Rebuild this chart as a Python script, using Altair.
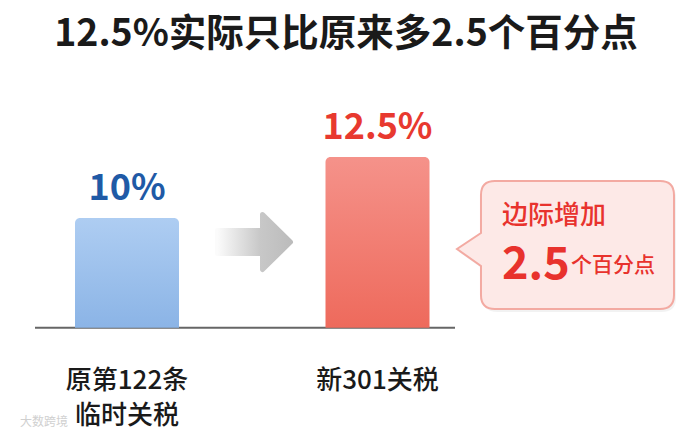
import altair as alt
import pandas as pd

# ---------------- data ----------------
categories = ["原第122条临时关税", "新301关税"]
label_lines = [["原第122条", "临时关税"], ["新301关税"]]
rates = [10, 12.5]
value_labels = ["10%", "12.5%"]
BASE = 5.5  # axis baseline value
title_text = "12.5%实际只比原来多2.5个百分点"
callout_line1 = "边际增加"
callout_big = "2.5"
callout_small = "个百分点"
watermark = "大数跨境"

FONT = "Noto Sans CJK SC"
W, H = 676, 422

df = pd.DataFrame({
    "cat": categories,
    "lines": label_lines,
    "rate": rates,
    "label": value_labels,
    "base": [BASE, BASE],
})

xs = alt.Scale(type="point", domain=categories, range=[119, 369.5], padding=0)
ys = alt.Scale(domain=[1.311, 18.607], zero=False, nice=False)
X = alt.X("cat:N", scale=xs, axis=None)
Y = alt.Y("rate:Q", scale=ys, axis=None)

base = alt.Chart(df)

blue_grad = alt.Gradient(gradient="linear", x1=0, y1=0, x2=0, y2=1,
                         stops=[alt.GradientStop(offset=0, color="#aecdf2"),
                                alt.GradientStop(offset=1, color="#8bb4e6")])
red_grad = alt.Gradient(gradient="linear", x1=0, y1=0, x2=0, y2=1,
                        stops=[alt.GradientStop(offset=0, color="#f5928a"),
                               alt.GradientStop(offset=1, color="#ee6a5c")])

bar_blue = base.transform_filter(alt.datum.cat == categories[0]).mark_bar(
    size=104, fill=blue_grad, cornerRadiusTopLeft=5, cornerRadiusTopRight=5
).encode(x=X, y=Y, y2="base:Q")

bar_red = base.transform_filter(alt.datum.cat == categories[1]).mark_bar(
    size=104, fill=red_grad, cornerRadiusTopLeft=5, cornerRadiusTopRight=5
).encode(x=X, y=Y, y2="base:Q")

val_text = base.mark_text(font=FONT, fontWeight="bold", fontSize=36,
                          baseline="alphabetic", dy=-18).encode(
    x=X, y=Y, text="label:N",
    color=alt.Color("cat:N", scale=alt.Scale(domain=categories, range=["#1f5aa6", "#e8392f"]), legend=None),
)

cat_text = base.mark_text(font=FONT, fontSize=26, fontWeight=500, color="#1a1a1a",
                          baseline="middle", lineHeight=35).encode(
    x=X, y=alt.value(373), text="lines")

axis_line = alt.Chart(pd.DataFrame({"b": [BASE]})).mark_rule(color="#666666", strokeWidth=2).encode(
    y=alt.Y("b:Q", scale=ys, axis=None), x=alt.value(27), x2=alt.value(447))

# arrow (decoration)
arrow_path = ("M -0.936 -0.295 L 0.218 -0.295 L 0.218 -0.705 L 0.936 0 "
              "L 0.218 0.705 L 0.218 0.295 L -0.936 0.295 Z")
arrow_grad = alt.Gradient(gradient="linear", x1=0, y1=0, x2=1, y2=0,
                          stops=[alt.GradientStop(offset=0, color="#fbfbfb"),
                                 alt.GradientStop(offset=0.58, color="#c8c8c8"),
                                 alt.GradientStop(offset=1, color="#bcbcbc")])
arrow = alt.Chart(pd.DataFrame({"a": [0]})).mark_point(
    shape=arrow_path, size=6084, filled=True, fill=arrow_grad, stroke=arrow_grad,
    strokeWidth=5, strokeJoin="round", opacity=1, fillOpacity=1, strokeOpacity=1
).encode(x=alt.value(246), y=alt.value(234))

# callout bubble
bubble_path = ("M -0.65 -0.59 L 0.871 -0.59 Q 1 -0.59 1 -0.461 L 1 0.461 Q 1 0.59 0.871 0.59 "
               "L -0.65 0.59 Q -0.779 0.59 -0.779 0.461 L -0.779 0.194 L -1 0.037 "
               "L -0.779 -0.111 L -0.779 -0.461 Q -0.779 -0.59 -0.65 -0.59 Z")
bub_df = pd.DataFrame({"a": [0]})
bubble_shadow = alt.Chart(bub_df).mark_point(
    shape=bubble_path, size=47089, filled=True, fill="#000000", opacity=0.05, strokeWidth=0
).encode(x=alt.value(559.5), y=alt.value(240))
bubble = alt.Chart(bub_df).mark_point(
    shape=bubble_path, size=47089, filled=True, fill="#fde9e7", stroke="#f3aaa2",
    strokeWidth=2, opacity=1, fillOpacity=1, strokeOpacity=1
).encode(x=alt.value(557.5), y=alt.value(237))

c1 = alt.Chart(pd.DataFrame({"t": [callout_line1]})).mark_text(
    font=FONT, fontSize=26, fontWeight=500, color="#e8322d", align="left", baseline="middle"
).encode(x=alt.value(494), y=alt.value(208), text="t:N")
c2 = alt.Chart(pd.DataFrame({"t": [callout_big]})).mark_text(
    font=FONT, fontSize=45, fontWeight="bold", color="#e8322d", align="left", baseline="alphabetic"
).encode(x=alt.value(494), y=alt.value(271), text="t:N")
c3 = alt.Chart(pd.DataFrame({"t": [callout_small]})).mark_text(
    font=FONT, fontSize=21, fontWeight=500, color="#e8322d", align="left", baseline="alphabetic"
).encode(x=alt.value(563), y=alt.value(264), text="t:N")

title = alt.Chart(pd.DataFrame({"t": [title_text]})).mark_text(
    font=FONT, fontSize=37.5, fontWeight="bold", color="#1a1a1a", align="center", baseline="middle"
).encode(x=alt.value(338), y=alt.value(27), text="t:N")

wm = alt.Chart(pd.DataFrame({"t": [watermark]})).mark_text(
    font=FONT, fontSize=12, color="#d0d0d0", align="left", baseline="middle"
).encode(x=alt.value(12), y=alt.value(414), text="t:N")

chart = alt.layer(
    axis_line, bar_blue, bar_red, val_text, cat_text, arrow,
    bubble_shadow, bubble, c1, c2, c3, title, wm
).properties(
    width=W, height=H, autosize="none", padding=0, background="white"
).configure_view(stroke=None)

chart.save("out.html", embed_options={"renderer": "svg", "actions": False})
